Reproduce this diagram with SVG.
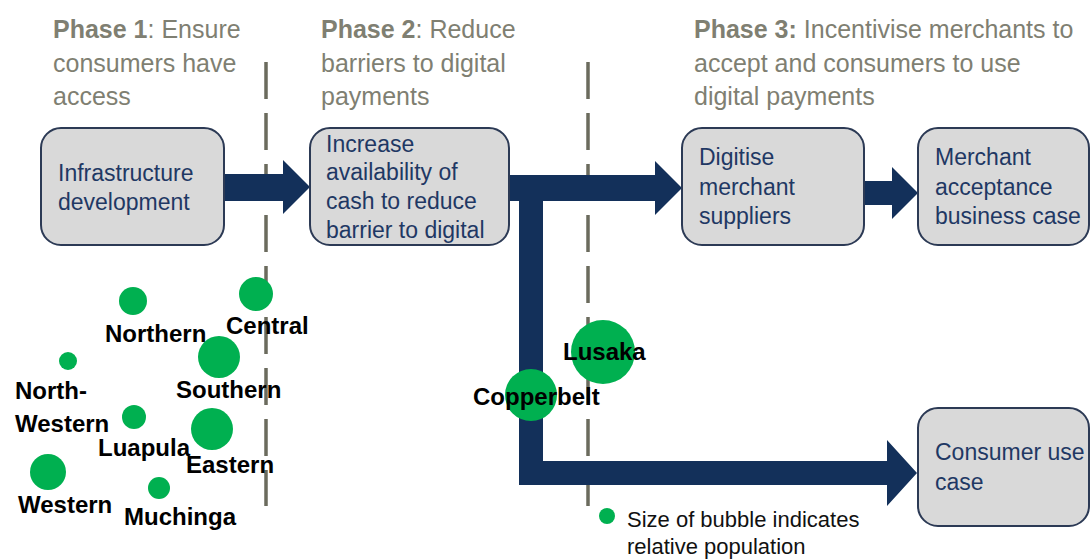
<svg xmlns="http://www.w3.org/2000/svg" width="1091" height="560" viewBox="0 0 1091 560">
  <style>
    .phase { font-family: "Liberation Sans", Arial, sans-serif; font-size: 25px; fill: #7f7f72; }
    .phase .b { font-weight: bold; }
    .box { fill: #d9d9d9; stroke: #2c3a55; stroke-width: 2; }
    .boxtext { font-family: "Liberation Sans", Arial, sans-serif; font-size: 23px; fill: #1f3864; }
    .sep { stroke: #6b6b5d; stroke-width: 3.5; stroke-dasharray: 37 14; fill: none; }
    .arrow { fill: #13305a; }
    .bubble { fill: #00b050; }
    .label { font-family: "Liberation Sans", Arial, sans-serif; font-size: 24px; font-weight: bold; fill: #000; }
    .legend { font-family: "Liberation Sans", Arial, sans-serif; font-size: 22px; fill: #111; }
  </style>

  <rect width="1091" height="560" fill="#ffffff"/>

  <g id="phase-headings">
    <text class="phase" x="53" y="38"><tspan class="b">Phase 1</tspan>: Ensure</text>
    <text class="phase" x="53" y="72">consumers have</text>
    <text class="phase" x="53" y="105">access</text>
    <text class="phase" x="321" y="38"><tspan class="b">Phase 2</tspan>: Reduce</text>
    <text class="phase" x="321" y="72">barriers to digital</text>
    <text class="phase" x="321" y="105">payments</text>
    <text class="phase" x="694" y="38"><tspan class="b">Phase 3:</tspan> Incentivise merchants to</text>
    <text class="phase" x="694" y="72">accept and consumers to use</text>
    <text class="phase" x="694" y="105">digital payments</text>
  </g>

  <g id="separators">
    <line class="sep" x1="266" y1="62" x2="266" y2="506"/>
    <line class="sep" x1="588" y1="62" x2="588" y2="506"/>
  </g>

  <g id="connectors">
    <polygon class="arrow" points="224,174 283,174 283,160 310,187 283,214 283,201 224,201"/>
    <polygon class="arrow" points="509,175 655,175 655,161 682,188 655,215 655,201 543,201 543,461 887,461 887,440 917,473 887,506 887,485 519,485 519,201 509,201"/>
    <polygon class="arrow" points="865,181 892,181 892,167 918,193 892,219 892,205 865,205"/>
  </g>

  <g id="node-infrastructure">
    <rect class="box" x="41" y="128" width="183" height="117" rx="20"/>
    <text class="boxtext" x="58" y="181">Infrastructure</text>
    <text class="boxtext" x="58" y="210">development</text>
  </g>
  <g id="node-cash">
    <rect class="box" x="310" y="128" width="199" height="117" rx="20"/>
    <text class="boxtext" x="326" y="152">Increase</text>
    <text class="boxtext" x="326" y="180">availability of</text>
    <text class="boxtext" x="326" y="209">cash to reduce</text>
    <text class="boxtext" x="326" y="238">barrier to digital</text>
  </g>
  <g id="node-digitise">
    <rect class="box" x="682" y="128" width="182" height="117" rx="20"/>
    <text class="boxtext" x="699" y="165">Digitise</text>
    <text class="boxtext" x="699" y="195">merchant</text>
    <text class="boxtext" x="699" y="224">suppliers</text>
  </g>
  <g id="node-merchant">
    <rect class="box" x="918" y="128" width="171" height="117" rx="20"/>
    <text class="boxtext" x="935" y="165">Merchant</text>
    <text class="boxtext" x="935" y="195">acceptance</text>
    <text class="boxtext" x="935" y="224">business case</text>
  </g>
  <g id="node-consumer">
    <rect class="box" x="918" y="408" width="171" height="118" rx="20"/>
    <text class="boxtext" x="935" y="460">Consumer use</text>
    <text class="boxtext" x="935" y="490">case</text>
  </g>

  <g id="bubble-northern">
    <circle class="bubble" cx="133" cy="301" r="14"/>
    <text class="label" x="105" y="342">Northern</text>
  </g>
  <g id="bubble-central">
    <circle class="bubble" cx="256" cy="294" r="17"/>
    <text class="label" x="226" y="334">Central</text>
  </g>
  <g id="bubble-northwestern">
    <circle class="bubble" cx="68" cy="361" r="9"/>
    <text class="label" x="15" y="399">North-</text>
    <text class="label" x="15" y="432">Western</text>
  </g>
  <g id="bubble-southern">
    <circle class="bubble" cx="219" cy="357" r="21"/>
    <text class="label" x="176" y="398">Southern</text>
  </g>
  <g id="bubble-luapula">
    <circle class="bubble" cx="134" cy="417" r="12"/>
    <text class="label" x="98" y="456">Luapula</text>
  </g>
  <g id="bubble-eastern">
    <circle class="bubble" cx="212" cy="429" r="21"/>
    <text class="label" x="186" y="473">Eastern</text>
  </g>
  <g id="bubble-western">
    <circle class="bubble" cx="48" cy="472" r="18"/>
    <text class="label" x="18" y="513">Western</text>
  </g>
  <g id="bubble-muchinga">
    <circle class="bubble" cx="159" cy="488" r="11"/>
    <text class="label" x="124" y="525">Muchinga</text>
  </g>
  <g id="bubble-lusaka">
    <circle class="bubble" cx="603" cy="352" r="32"/>
    <text class="label" x="563" y="360">Lusaka</text>
  </g>
  <g id="bubble-copperbelt">
    <circle class="bubble" cx="531" cy="395" r="26"/>
    <text class="label" x="473" y="405">Copperbelt</text>
  </g>

  <g id="legend">
    <circle class="bubble" cx="607" cy="516" r="8"/>
    <text class="legend" x="627" y="527">Size of bubble indicates</text>
    <text class="legend" x="627" y="554">relative population</text>
  </g>
</svg>
